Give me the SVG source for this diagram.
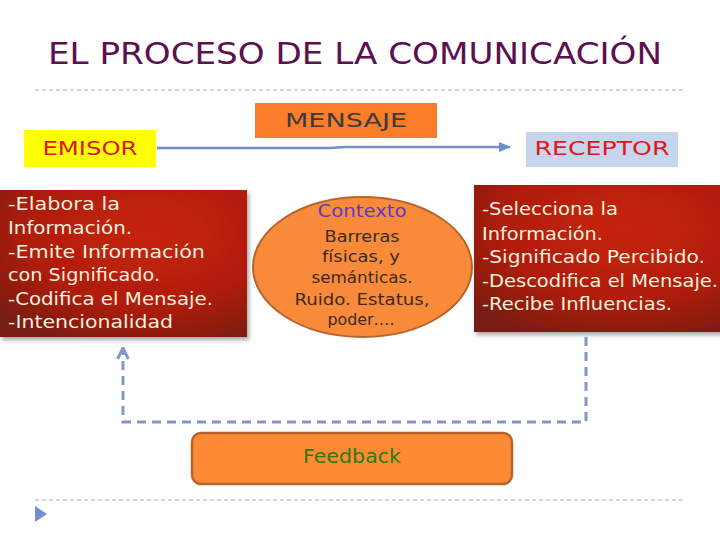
<svg xmlns="http://www.w3.org/2000/svg" width="720" height="540" viewBox="0 0 720 540">
<style>
.body{font-family:"DejaVu Sans","Liberation Sans",sans-serif;font-size:18px;fill:#f8efdc}
.ell{font-family:"DejaVu Sans","Liberation Sans",sans-serif;font-size:16.5px;fill:#3b2a20;text-anchor:middle}
.lbl{font-family:"DejaVu Sans","Liberation Sans",sans-serif;font-size:20px;text-anchor:middle}
.sep{stroke:#9ab0c8;stroke-width:1;stroke-dasharray:4 3;fill:none}
.fb{stroke:#7f98c8;stroke-width:3;stroke-dasharray:9 6;fill:none}
</style>
<defs>
<radialGradient id="red" cx="0.6" cy="0.3" r="0.8">
<stop offset="0" stop-color="#c8220d"/>
<stop offset="0.6" stop-color="#b01e0f"/>
<stop offset="1" stop-color="#7a1a12"/>
</radialGradient>
<filter id="sh" x="-5%" y="-5%" width="115%" height="120%">
<feDropShadow dx="2" dy="3" stdDeviation="2" flood-color="#000" flood-opacity="0.35"/>
</filter>
<marker id="ah" viewBox="0 0 10 10" refX="9" refY="5" markerWidth="4.5" markerHeight="4.5" orient="auto">
<path d="M1 1 L9 5 L1 9" fill="none" stroke="#7f98c8" stroke-width="2.2"/>
</marker>
<marker id="ab" viewBox="0 0 10 10" refX="9" refY="5" markerWidth="5" markerHeight="5" orient="auto">
<path d="M0 1 L10 5 L0 9 Z" fill="#6f8fcf"/>
</marker>
</defs>
<rect width="720" height="540" fill="#ffffff"/>
<text id="title" x="48" y="64" textLength="614" lengthAdjust="spacingAndGlyphs" style="font-family:'DejaVu Sans','Liberation Sans',sans-serif;font-size:31px;fill:#5b1050">EL PROCESO DE LA COMUNICACIÓN</text>
<line class="sep" x1="35" y1="90" x2="685" y2="90"/>
<line class="sep" x1="35" y1="500" x2="685" y2="500"/>
<polygon points="35,506 47,514 35,522" fill="#6f8fd0"/>

<g id="connectors">
<path d="M157 148 H330 L345 147 H510" stroke="#6f8fcf" stroke-width="2.5" fill="none" marker-end="url(#ab)"/>
<path class="fb" d="M586 337 V422 H123 V348" marker-end="url(#ah)"/>
</g>

<g id="emisor">
<rect x="24" y="130" width="132" height="37" fill="#ffff00"/>
<text class="lbl" x="90" y="155" fill="#dc1818" textLength="95" lengthAdjust="spacingAndGlyphs">EMISOR</text>
</g>

<g id="mensaje">
<rect x="255" y="103" width="182" height="35" fill="#fb7d2a"/>
<text class="lbl" x="346" y="127" fill="#3c3c3c" textLength="122" lengthAdjust="spacingAndGlyphs">MENSAJE</text>
</g>

<g id="receptor">
<rect x="526" y="132" width="152" height="35" fill="#c7d5ec"/>
<text class="lbl" x="602" y="155" fill="#dc1818" textLength="135" lengthAdjust="spacingAndGlyphs">RECEPTOR</text>
</g>

<g id="emisor-desc">
<rect x="0" y="190" width="247" height="147" fill="url(#red)" filter="url(#sh)"/>
<text class="body" x="8" y="210" textLength="112" lengthAdjust="spacingAndGlyphs">-Elabora la</text>
<text class="body" x="8" y="234" textLength="124" lengthAdjust="spacingAndGlyphs">Información.</text>
<text class="body" x="8" y="258" textLength="197" lengthAdjust="spacingAndGlyphs">-Emite Información</text>
<text class="body" x="8" y="281" textLength="152" lengthAdjust="spacingAndGlyphs">con Significado.</text>
<text class="body" x="8" y="305" textLength="205" lengthAdjust="spacingAndGlyphs">-Codifica el Mensaje.</text>
<text class="body" x="8" y="328" textLength="165" lengthAdjust="spacingAndGlyphs">-Intencionalidad</text>
</g>

<g id="contexto">
<ellipse cx="362.5" cy="267" rx="109.5" ry="70" fill="#f98a3a" stroke="#b5642d" stroke-width="2"/>
<text class="ell" x="362" y="217" style="fill:#5a3cc8;font-size:18px" textLength="89" lengthAdjust="spacingAndGlyphs">Contexto</text>
<text class="ell" x="362" y="242" textLength="75" lengthAdjust="spacingAndGlyphs">Barreras</text>
<text class="ell" x="361" y="262" textLength="78" lengthAdjust="spacingAndGlyphs">físicas, y</text>
<text class="ell" x="362" y="283" textLength="101" lengthAdjust="spacingAndGlyphs">semánticas.</text>
<text class="ell" x="362" y="305" textLength="135" lengthAdjust="spacingAndGlyphs">Ruido. Estatus,</text>
<text class="ell" x="361" y="325" textLength="67" lengthAdjust="spacingAndGlyphs">poder….</text>
</g>

<g id="receptor-desc">
<rect x="474" y="185" width="250" height="147" fill="url(#red)" filter="url(#sh)"/>
<text class="body" x="482" y="215" textLength="136" lengthAdjust="spacingAndGlyphs">-Selecciona la</text>
<text class="body" x="482" y="240" textLength="121" lengthAdjust="spacingAndGlyphs">Información.</text>
<text class="body" x="482" y="263" textLength="223" lengthAdjust="spacingAndGlyphs">-Significado Percibido.</text>
<text class="body" x="482" y="287" textLength="236" lengthAdjust="spacingAndGlyphs">-Descodifica el Mensaje.</text>
<text class="body" x="482" y="310" textLength="190" lengthAdjust="spacingAndGlyphs">-Recibe Influencias.</text>
</g>

<g id="feedback">
<rect x="192" y="433" width="320" height="51" rx="9" fill="#ff8a36" stroke="#b5642d" stroke-width="2.5"/>
<text class="lbl" x="352" y="463" fill="#2a7a10" textLength="98" lengthAdjust="spacingAndGlyphs">Feedback</text>
</g>
</svg>
